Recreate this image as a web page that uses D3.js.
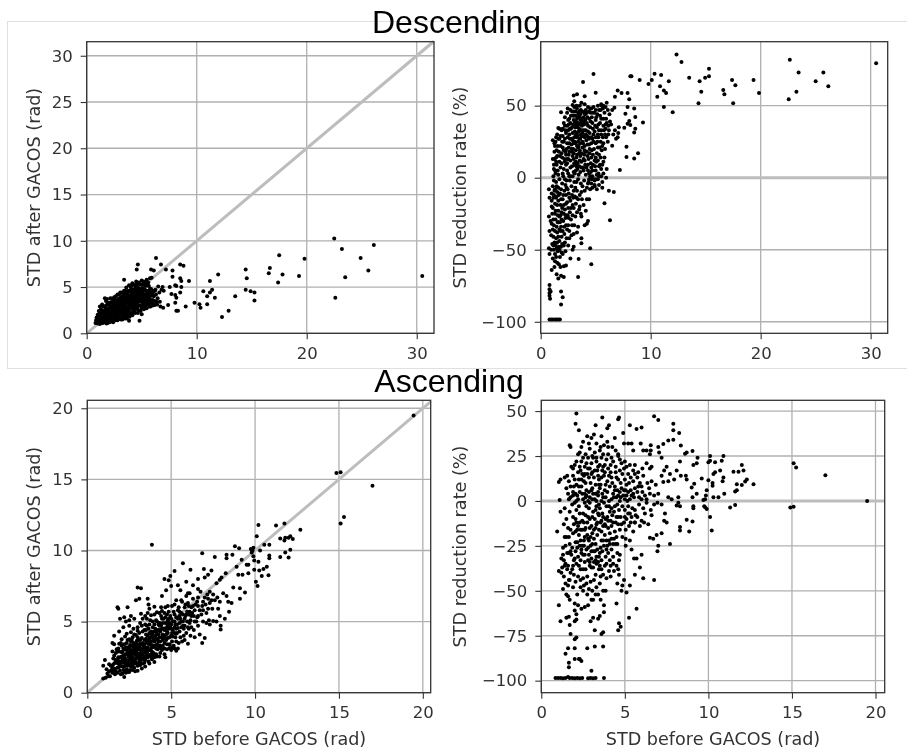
<!DOCTYPE html>
<html>
<head>
<meta charset="utf-8">
<script src="https://cdn.jsdelivr.net/npm/d3@7"></script>
<style>
html,body{margin:0;padding:0;background:#fff;}
svg{display:block;}
</style>
</head>
<body>
<svg id="chart" width="907" height="753"></svg>
<script>
// values: [before, after] or [before, rate]
const descAfter = [[30.5,6.2],[26.1,9.55],[25.6,6.8],[24.9,8.15],[23.5,6.05],[23.2,9.1],[22.6,3.85],[22.5,10.25],[19.8,8.05],[19.3,6.2],[17.8,6.35],[17.5,8.45],[17.4,5.5],[16.65,7.05],[16.55,6.5],[15.25,4.4],[15.25,3.55],[14.9,4.55],[14.55,5.95],[14.45,6.9],[14.45,4.7],[13.5,4],[12.9,2.45],[12.3,1.75],[11.95,6.35],[11.65,3.85],[11.4,4.7],[11.2,5.65],[11.2,4.4],[10.95,4],[10.95,3.15],[10.6,4.55],[10.35,2.75],[10.25,3.15],[9.8,3.3],[9.3,5.65],[9,2.9],[8.8,7.3],[8.5,7.45],[8.6,5.65],[8.5,5.95],[8.6,5],[8.5,4.4],[8.15,5.1],[8.05,5.2],[8.15,2.45],[8.3,2.45],[8.05,3.3],[8.15,3.85],[8.05,4.15],[7.7,4.25],[7.8,6.8],[7.8,6.1],[7.55,5],[7.4,3.05],[7.2,6.9],[6.75,7.45],[6.3,8.15],[6.1,6.8],[5.85,6.9],[5.75,5.95],[5.9,6],[4.65,7.45],[4.55,6.9],[3.4,5.8],[4.8,1.35],[3.85,1.35],[5,2.05],[6.95,2.75],[6.65,3.4],[6.8,4.7],[6.9,5],[6.5,5.05],[7,4.6],[6.6,4.4],[6.4,3.1],[6.7,2.9],[6.2,3.5],[6.1,4],[6.3,4.2]];

const descAfterDense = [[0.8,1.1],[0.85,1.4],[0.9,1.7],[0.95,1.2],[1,2],[1,1.05],[1.05,1.5],[1.1,2.4],[1.1,1.2],[1.15,1.8],[1.2,1],[1.25,2.1],[1.3,1.4],[1.3,2.6],[1.35,1.7],[1.4,1.1],[1.45,2.3],[1.5,1.5],[1.5,2.9],[1.55,1.9],[1.6,1.2],[1.65,2.5],[1.7,1.6],[1.75,3],[1.8,2.1],[1.8,1.05],[1.85,3.7],[1.9,1.4],[1.95,2.7],[2,1.8],[2,3.3],[2.05,1.2],[2.1,2.3],[2.15,3.8],[2.2,1.6],[2.25,2.9],[2.3,2],[2.3,1.3],[2.35,3.4],[2.4,2.5],[2.45,1.8],[2.5,3.9],[2.5,1.45],[2.55,3],[2.6,2.2],[2.65,1.6],[2.7,3.5],[2.75,2.7],[2.8,4.2],[2.8,1.4],[2.85,1.9],[2.9,3.2],[2.95,2.4],[3,3.8],[3,1.7],[3.05,4.4],[3.1,2.9],[3.15,2.1],[3.2,3.4],[3.25,1.5],[3.3,4.1],[3.35,2.6],[3.4,3],[3.45,1.9],[3.5,4.6],[3.5,3.6],[3.55,2.3],[3.6,2.9],[3.65,1.6],[3.7,4.2],[3.75,3.3],[3.8,2.5],[3.85,5.2],[3.9,3.8],[3.95,2],[4,3],[4,4.5],[4.05,2.7],[4.1,3.5],[4.15,5.4],[4.2,2.2],[4.25,4],[4.3,3.1],[4.35,4.8],[4.4,2.6],[4.45,3.6],[4.5,5.6],[4.5,4.3],[4.55,2.9],[4.6,3.3],[4.65,5],[4.7,2.5],[4.75,4.1],[4.8,3.6],[4.85,5.3],[4.9,3],[4.95,4.5],[5,2.7],[5,5.7],[5.05,3.8],[5.1,4.9],[5.15,3.2],[5.2,4.2],[5.25,5.5],[5.3,2.9],[5.35,3.6],[5.4,4.6],[5.45,5.8],[5.5,3.1],[5.55,4],[5.6,3.4],[5.65,5.1],[5.7,4.4],[5.75,3.7],[5.8,2.9],[5.85,4.8],[5.9,3.3],[5.95,4.1],[6,3.6],[6.05,4.6],[6,3],[3.2,2.4],[2.6,3.1],[3,2.6],[3.6,3.9],[4.2,3.4],[4.8,4.2],[2.2,2.5],[1.7,2.3],[1.3,1.9],[3.4,3.5],[3.8,2.9],[2.9,1.55],[3.3,1.8],[2.4,1.2],[1.9,1.1],[4.4,4.2],[5.2,3.4],[4.6,4.7],[3.1,3.6],[2.7,2.3],[2.1,1.7],[1.6,1.7],[1.2,1.5],[3.7,2.2],[4.1,4],[4.9,3.9],[5.4,4.1],[2.5,3.4],[3.5,2.7],[4.3,2.9],
[1,1.35],[1.1,1.65],[1.2,2.25],[1.25,1.25],[1.35,2.4],[1.4,1.55],[1.45,2],[1.55,1.3],[1.6,2.15],[1.65,2.85],[1.7,1.35],[1.75,1.9],[1.8,2.6],[1.85,1.6],[1.9,3.2],[1.95,2.2],[2,2.6],[2.05,1.55],[2.1,3],[2.15,2],[2.2,3.35],[2.25,1.35],[2.3,2.7],[2.35,1.7],[2.4,3.1],[2.45,2.2],[2.5,2.8],[2.55,1.55],[2.6,3.6],[2.65,2.5],[2.7,1.9],[2.75,3.2],[2.8,2.1],[2.85,3.7],[2.9,2.7],[2.95,1.8],[3,3.2],[3.05,2.2],[3.1,3.9],[3.15,2.7],[3.2,1.8],[3.25,3],[3.3,2.2],[3.35,3.7],[3.4,2.4],[3.45,4.2],[3.5,2.1],[3.55,3.3],[3.6,2.5],[3.65,3.7],[3.7,1.9],[3.75,2.8],[3.8,4.6],[3.85,3.3],[3.9,2.3],[3.95,4.1],[4,3.5],[4,2.2],[4.05,4.8],[4.1,2.9],[4.15,3.8],[4.2,2.6],[4.25,4.5],[4.3,3.5],[4.35,2.4],[4.4,3.2],[4.45,5],[4.5,2.7],[4.55,3.9],[4.6,2.8],[4.65,4.4],[4.7,3.4],[4.75,4.8],[4.8,3],[4.85,3.9],[4.9,4.8],[4.95,3.4],[5,4.1],[5.05,3],[5.1,4.4],[5.15,5.3],[5.2,3.7],[5.25,3],[5.3,4.7],[5.35,5.1],[5.4,3.3],[5.45,4.3],[5.5,3.7],[5.55,5.2],[5.6,4.6],[5.65,3.1],[5.7,3.9],[5.75,4.8],[5.8,3.4],[5.85,4.2],[5.95,3.2],[6,4.4],[6.1,3.1],[6.2,4.6],[3.15,3.15],[2.9,3.55],[2.45,3.6],[3.55,3.1],[3.95,3.15],[3.3,2.75],[2.85,2.5],[4.4,3.85],[4.65,3.6],[4.15,3.1],[3.75,3.6],[3.35,3.25],[3.05,2.5],[2.65,2.9],[2.35,2.3]];

const descAfterExtra = [[1.2,2.9],[1.65,3.8],[1.4,3.1],[1.75,3.5],[2.3,3.75],[2.65,4],[2.95,4.2],[3.2,4.4],[3.4,4.6],[3.6,4.95],[3.75,4.5],[4,5],[4.1,5.2],[4.3,5.25],[4.55,5.3],[4.75,5.5],[4.95,5.25],[5.15,5.6],[5.4,5.4],[5.6,5.5],[2.15,1.25],[2.6,1.4],[3.1,1.5],[3.5,1.6],[3.9,1.8],[4.15,1.95],[4.4,2.2],[4.65,2.2],[4.9,2.4],[5.2,2.6],[5.45,2.7],[5.7,2.9],[6.2,3.05],[6.35,3.4],[6.45,3.8],[6.25,4.7],[2.5,2.05],[2.75,1.7],[3,2.3],[3.25,2.55],[3.45,2.2],[3.65,2.7],[3.85,2.15],[4.05,3.3],[4.25,2.45],[4.5,3],[4.7,3],[4.9,3.6],[5.05,3.4],[5.3,3.2],[5.5,4.2],[2,2.05],[2.2,2.8],[2.4,3.3],[2.6,2.7],[2.8,3],[3,3],[3.2,3.8],[3.4,3.9],[3.6,3.5],[3.8,3.9],[4,4.1],[4.2,4.2],[4.4,4.5],[4.6,4.1],[4.8,4.5],[5,4.3],[5.2,4.7],[5.4,3.85],[5.6,3.9],[5.8,4.1],[1.5,1.15],[1.9,2.4],[2.1,1.45],[2.7,1.5],[3.3,3.3],[3.55,4.3],[3.75,4],[3.95,4.6],[4.15,4.4],[4.35,4.1],[4.55,3.4],[4.75,3.7],[4.95,4.1],[5.1,3.7],[5.3,4],[5.55,3.4]];

const descRate = [[30.5,79.4],[26.15,63.4],[25.7,73.1],[25,66.9],[23.45,73.1],[23.25,59.7],[22.65,81.9],[22.55,54.4],[19.85,58.8],[19.35,67.8],[17.7,64.1],[17.5,51.6],[17.4,67.8],[16.7,57.9],[16.6,60.9],[15.3,75.7],[15.3,70.4],[14.95,69.4],[14.6,59.7],[14.45,66.9],[14.35,51.6],[13.5,69.4],[12.8,80.3],[12.35,85.6],[12,45.4],[11.65,66.9],[11.4,58.8],[11.2,60.6],[11.2,49.1],[10.85,63.4],[10.95,71.3],[10.6,56.2],[10.35,72.2],[10.1,67.8],[9.8,65],[9.3,38.4],[9,67.8],[8.85,16.9],[8.6,42.1],[8.5,48.1],[8.5,31.3],[8.6,34],[8.5,13.4],[8.25,70.4],[8.15,70.4],[8.05,54.4],[7.9,58.8],[7.9,49.1],[7.8,21.5],[7.8,14.4],[8.05,39.4],[8.15,36.6],[7.9,37.5],[7.7,44.4],[7.6,34.7],[7.35,58.8],[7,60.6],[7.2,5.3],[6.65,-10],[6.2,-9],[6.3,-29.6],[5.8,-17.8],[6.5,22.2],[6.75,56.2],[6.7,48.5],[6.5,47],[7.1,35],[7.05,31],[6.85,27],[7,28],[6.75,33],[6.6,30],[4.8,72],[3.85,66.5],[5,59],[4,56.5],[3.3,58],[3,57],[3.05,53],[2.9,50.5]];

const descRateDense = [[0.8,-98.5],[0.95,-98.5],[1.1,-98.5],[1.3,-98.5],[1.45,-98.5],[1.6,-98.5],[1.75,-98.5],[0.8,-74.5],[0.8,-77.5],[0.8,-80],[0.8,-82],[0.85,-84],[0.9,-79],[1.85,-79],[2,-83],[1.85,-88],[1.85,-68],[2.1,-69],[1.45,-67],[1.6,-70],[1.0,-64],[1.25,-62],[1.5,-59],[1.8,-62],[2.1,-61.5],[2.3,-61],[3.4,-69],[3.45,-56.5],[4.6,-60],[4.5,-49],[3.7,-42],[3.7,-45.5],[2.7,-56],[0.8,-53],[0.75,-49],[0.95,-50],[1.1,-56],[1.3,-53],[1.55,-51],[1.75,-55],[1.85,-48],[2.2,-45],[2.5,-47],[2.9,-50],[3,-48],[0.8,-37],[0.95,-40],[1.1,-36],[1.25,-45],[1.4,-42],[1.5,-38],[1.7,-44],[1.9,-41],[2.15,-39],[2.4,-36],[2.8,-40],[3,-39],[0.75,-27],[0.9,-30],[1.05,-25],[1.2,-33],[1.35,-29],[1.55,-31],[1.7,-27],[1.85,-34],[2.05,-30],[2.25,-28],[2.5,-33],[2.75,-29],[3.05,-33],[3.4,-34],[3.7,-27],[4,-33],[4.2,-32],[4.3,-30],[0.8,-14],[0.75,-8],[1,-16],[1.1,-21],[1.3,-18],[1.45,-13],[1.6,-23],[1.8,-19],[2,-15],[2.2,-22],[2.4,-17],[2.65,-24],[2.9,-19],[3.1,-13],[3.3,-24],[3.55,-20],[3.75,-15],[4.2,-15],[4.4,-15],[1.1,-6],[1.25,-9],[1.4,-3],[1.6,-7],[1.75,-11],[1.95,-4],[2.15,-9],[2.35,-2],[2.55,-11],[2.8,-6],[3.05,-3],[3.3,-9],[3.55,-12],[3.8,-6],[4,-9],[4.3,-4],[4.5,-8],[4.7,-7],[4.9,-6],[5.1,-8],[5.3,-5],[5.6,-7],[5.6,-3],
[1.15,1],[1.3,5],[1.45,9],[1.6,2],[1.8,7],[2,3],[2.2,11],[2.4,5],[2.6,1],[2.85,8],[3.1,3],[3.35,10],[3.6,4],[3.85,7],[4.1,2],[4.3,9],[4.5,1],[4.7,5],[4.9,-2],[5.1,2],[5.3,8],[5.5,1],[5.7,3],[5.95,0],[6,6],[5.6,9],[1.1,13],[1.25,18],[1.4,11],[1.55,22],[1.75,15],[1.95,25],[2.15,13],[2.35,20],[2.55,16],[2.8,23],[3,13],[3.2,19],[3.4,25],[3.6,15],[3.8,21],[4,12],[4.2,18],[4.4,23],[4.6,14],[4.85,20],[5.05,11],[5.3,16],[5.55,19],[5.8,14],[5.15,25],[1.1,26],[1.4,28],[1.7,34],[2,29],[2.2,36],[2.45,28],[2.7,38],[2.9,31],[3.15,35],[3.35,29],[3.55,42],[3.8,33],[4,28],[4.2,38],[4.45,31],[4.7,27],[4.95,36],[5.2,30],[5.4,38],[5.65,28],[5.9,34],[6.15,30],[6.3,39],[1.7,27],[1.6,34.5],[2.4,45],[1.85,45.5],[2.6,41],[2.85,46],[3.1,43],[3.3,48],[3.55,50],[3.8,46],[4.05,44],[4.3,49],[4.55,45],[4.8,49],[5.05,42],[5.3,47],[5.55,50],[5.8,45],[6,52],[5.5,51],[6.25,44],[6.4,37],[5.95,41],[3.4,38],[2.6,24],[2.95,20],[3.25,28],[3.65,30],[3.95,37],[4.35,28],[2.3,16],[2.1,19],[1.9,10],[2.7,12],[3.5,17],[4.15,26],[3,40],[2.5,33],[1.3,22],[1.2,9],[1.5,15],[4.4,-1],[4.6,-4],[4.7,1],[4.9,-5],[5.2,-1],[2.3,-12],[2.9,-26],[1.8,-37],[1.3,-58],[1.45,-49],[2.0,-53],[1.15,-41],[1.6,-16],
[1,-32],[1.15,-29],[1.3,-37],[1.45,-34],[1.6,-41],[1.7,-36],[1.9,-24],[2,-37],[2.1,-25],[2.3,-33],[2.45,-26],[2.6,-37],[2.85,-33],[3.15,-27],[3.3,-38],[1.05,-46],[1.2,-50],[1.35,-47],[1.5,-45],[1.65,-48],[1.9,-52],[2.1,-47],[2.35,-42],[1,-11],[1.15,-14],[1.35,-23],[1.5,-19],[1.65,-12],[1.9,-29],[2.1,-19],[2.3,-26],[2.5,-21],[2.7,-16],[2.95,-14],[3.2,-18],[3.4,-15],[3.65,-25],[3.9,-19],[4.1,-23],[1.2,-2],[1.35,3],[1.5,-10],[1.7,-1],[1.85,-8],[2.05,1],[2.25,-5],[2.45,-8],[2.65,-2],[2.9,1],[3.15,-7],[3.4,-1],[3.65,-4],[3.95,-2],[4.2,-7],[4.4,3],[4.6,7],[4.8,-1],[5,5],[5.25,3],[5.5,6],[1.2,6],[1.4,14],[1.55,5],[1.7,11],[1.9,17],[2.1,6],[2.3,9],[2.5,13],[2.7,7],[2.9,15],[3.1,9],[3.25,14],[3.5,8],[3.7,11],[3.95,16],[4.15,7],[4.35,13],[4.55,10],[4.75,16],[4.95,8],[5.2,12],[5.45,14],[5.7,11],[1.25,24],[1.45,19],[1.6,27],[1.8,22],[2,21],[2.2,27],[2.4,24],[2.6,30],[2.8,27],[3,24],[3.2,30],[3.4,21],[3.6,27],[3.8,25],[4,22],[4.2,29],[4.4,27],[4.6,24],[4.8,30],[5,24],[5.2,21],[5.45,25],[5.7,24],[5.95,28],[6.1,25],[1.9,33],[2.1,38],[2.3,31],[2.55,37],[2.75,34],[2.95,37],[3.1,32],[3.3,41],[3.5,34],[3.7,38],[3.9,42],[4.1,33],[4.3,36],[4.55,39],[4.75,34],[5,40],[5.25,37],[5.5,33],[5.7,41],[5.9,37],[6.15,36],[2.2,42],[2.5,40],[2.75,43],[3,46],[3.2,39],[3.4,45],[3.65,47],[3.9,39],[4.1,47],[4.4,41],[4.65,42],[4.9,45],[5.15,44],[5.4,43],[5.65,48],[3.25,50],[3.5,46],[3.7,52],[4,51],[4.5,48],[3.05,49],[2.7,47],[3.6,40],[3.35,35],[3.15,24],[3.45,32],[3.75,36],[3.05,28],[2.85,35],[4.05,40],[4.25,42],[3.6,24],[3.85,29],[3.25,37]];

const descRateExtra = [[1,-20],[1.2,-12],[1.3,-25],[1.45,-6],[1.55,-26],[1.75,-31],[1.95,-21],[2.15,-34],[2.35,-7],[2.55,-28],[2.75,-21],[3,-9],[3.25,-14],[3.5,-22],[3.7,-10],[1.25,13],[1.35,25],[1.5,30],[1.65,18],[1.8,29],[1.95,14],[2.1,25],[2.25,18],[2.4,10],[2.55,21],[2.65,34],[2.85,18],[3.05,10],[3.2,5],[3.3,16],[3.45,22],[3.55,12],[3.75,17],[3.9,5],[4.05,18],[4.25,23],[4.45,17],[4.65,19],[4.9,12],[5.1,17],[5.35,21],[5.6,22],[5.85,20],[2,34],[2.25,33],[2.4,36],[2.65,27],[2.9,26],[3.1,38],[3.3,31],[3.5,37],[3.65,33],[3.8,31],[3.95,33],[4.1,30],[4.3,32],[4.5,35],[4.7,38],[4.9,32],[5.1,35],[5.3,33],[5.5,41],[5.7,36],[5.85,30],[6,38],[6.2,33],[2.45,48],[2.95,43],[3.15,46],[3.35,43],[3.6,44],[3.75,41],[3.95,45],[4.2,45],[4.4,46],[4.6,48],[4.75,45],[5,47],[5.2,50],[5.45,47],[5.7,50],[5.9,49],[6.1,47],[3.1,25],[3.3,22],[3.5,27],[3.7,29],[3.85,24],[4,19],[4.25,15],[4.45,20],[4.6,28],[4.8,25],[5,28],[5.25,28],[5.5,30],[5.75,33],[2.4,13],[2.6,18],[2.8,20],[3,17],[3.2,11],[3.35,6],[3.55,19],[3.7,7],[3.9,13],[4.05,9],[4.3,5],[4.55,4],[4.75,9],[5,14],[5.4,9],[1.4,-14],[1.8,-26],[2.05,-12],[2.3,-18],[2.6,-14],[2.85,-12],[3,-21],[3.25,-3],[1.3,-8],[1.6,-31],[1.85,-15],[2.2,-1],[2.5,3],[2.7,1],[3,4],[3.25,8],[3.45,2],[4.35,-3],[4.65,-1],[5,-1],[5.3,1],[1.65,-60],[1.15,-47],[1.4,-55],[1.7,-50],[1.95,-46],[2.25,-51],[2.6,-42]];

const ascAfter = [[19.45,19.5],[17,14.55],[15.1,15.5],[14.85,15.45],[15.3,12.35],[15.1,11.9],[12.7,11.45],[12.25,10.8],[12.1,11],[12,10.9],[12.1,10.05],[12,9.5],[11.8,9.85],[11.75,11.9],[11.25,11.75],[11.5,10.85],[11.75,10.7],[11.8,10.9],[11.5,9.55],[10.2,11.8],[10.1,11],[10.55,10.4],[10.85,10.4],[10.3,10],[10.85,9.65],[10.85,9.45],[10.7,8.85],[10.8,8.25],[10.4,8.2],[10.5,8.7],[10.25,8.6],[9.95,8.65],[10.15,7.5],[10.05,7.8],[10.2,9.2],[9.85,10],[9.75,10.1],[9.9,10.2],[9.8,9.85],[9.9,9.6],[9.95,9.3],[3.85,10.4],[9.5,9],[9.6,9],[9.2,9.35],[9.05,10.15],[8.8,10.3],[8.65,9.7],[8.3,9.7],[8.3,9.45],[8.9,8.85],[9,8.3],[9.25,8.3],[9.6,8.4],[9.1,7.35],[9.4,7.05],[9.1,6.6],[8.7,7.4],[8.6,6.3],[8.4,6.4],[8.3,6.8],[8.1,7],[8.25,8.4],[8,8.1],[7.9,7.95],[7.7,7.7],[7.6,9.55],[7.4,8.6],[7.2,8.3],[7,8.1],[6.85,9.8],[5.7,9.1],[5.2,8.55],[6.15,8.65],[6.95,8.7],[6.6,8],[4.85,7.9],[4.6,8],[4.95,8.2],[3,7.4],[3.2,7.35],[2.9,6.5],[3.1,6.6],[3.6,6.6],[3.65,6.2],[1.8,6],[1.85,5.9],[2.4,6],[3.7,5.9],[4.45,6.8],[4.7,7.2],[5,7.5],[5.4,7.55],[5.55,7.2],[5.9,7.8],[6.3,7.55],[6.6,7.3],[7.3,7.1],[7.5,6.9],[7.75,6.7],[7.9,6.4],[7.2,6.6],[8.2,5.2],[8.45,5.7],[7.95,4.45],[7.95,4.7],[7.7,5],[7.5,5.05],[7.25,5.1],[7.1,4.9],[7,3.85],[6.85,3.5],[6.2,4.6],[6.05,4.5],[6.55,5.3],[6.9,5],[5.75,4],[6,3.45],[5.3,3.6],[5.3,2.95],[5,3],[4.65,2.5],[4.6,3.5],[4.2,3.35],[3.8,2.7],[3.4,2.5],[2.6,5.4],[2.3,5],[1.95,5.2],[1.9,4.3],[2.15,4.6],[2.5,4.7],[1.6,3.4],[1.5,2.9],[1.05,2.3],[0.95,1.9],[1.3,2],[1.15,1.65],[1.1,1.05],[0.95,1],[1.25,1.15],[2.2,1.1]];

const ascAfterDense = [[1.3,1.5],[1.4,1.9],[1.5,1.4],[1.55,2.4],[1.6,1.7],[1.7,1.5],[1.7,2.8],[1.75,2.1],[1.8,1.4],[1.85,3.1],[1.9,1.8],[1.95,2.5],[2,1.3],[2,3.5],[2.05,2.1],[2.1,2.9],[2.15,1.6],[2.2,3.4],[2.25,2.3],[2.3,1.4],[2.35,2.7],[2.4,3.7],[2.4,1.9],[2.45,3.2],[2.5,2.3],[2.55,1.6],[2.6,3.6],[2.65,2.7],[2.7,1.9],[2.75,3.2],[2.8,4.1],[2.8,2.3],[2.85,1.5],[2.9,3.5],[2.95,2.7],[3,1.9],[3,4.6],[3.05,3.1],[3.1,2.3],[3.15,3.7],[3.2,2.8],[3.25,1.7],[3.3,4.3],[3.35,3.3],[3.4,2.1],[3.45,5.4],[3.5,3.8],[3.5,2.6],[3.55,4.7],[3.6,3.2],[3.65,2.2],[3.7,4.2],[3.75,5.1],[3.8,3.6],[3.85,2.9],[3.9,4.6],[3.95,3.3],[4,5.5],[4,2.5],[4.05,4],[4.1,3.1],[4.15,5],[4.2,4.4],[4.25,3.6],[4.3,5.6],[4.35,2.8],[4.4,4.7],[4.45,3.9],[4.5,3.3],[4.55,5.2],[4.6,4.4],[4.65,6],[4.7,3.7],[4.75,4.9],[4.8,4.2],[4.85,5.7],[4.9,3.4],[4.95,4.6],[5,5.2],[5,4],[5.05,6.1],[5.1,4.4],[5.15,3.3],[5.2,5.5],[5.25,4.8],[5.3,6.5],[5.35,4.2],[5.4,5.2],[5.45,6],[5.5,4.9],[5.55,3.9],[5.6,5.6],[5.65,6.4],[5.7,5],[5.75,4.5],[5.8,6],[5.85,5.4],[5.9,6.8],[5.95,5],[6,6.3],[6.05,5.5],[6.1,7],[6.15,5.1],[6.2,6],[6.3,6.6],[6.35,5.4],[6.45,6.2],[6.5,5],[6.6,6.7],[6.7,5.8],[6.75,7.1],[6.9,6.4],[7,6.7],[7.1,5.6],[7.3,6.3],[7.45,5.9],[7.6,6.5],[7.8,5.9],[7.9,5.4],[2.2,2.5],[2.6,3],[3,3.4],[3.4,3.7],[3.2,3.1],[2.9,2.9],[2.5,2.7],[2.1,2.4],[3.6,4],[3.3,2.7],[3.7,3.4],[4.1,4.3],[4.3,3.9],[4.5,4.9],[3.1,4.2],[2.7,3.9],[2.3,3.2],[1.9,2.9],[3.5,4.4],[3.9,5],[4.8,5.1],[5.2,4.2],[5.5,5.4],[2.3,2],[2.7,2.5],[3.1,2.7],[3.5,3.1],[3.9,3.9],[4.3,4.4],
[1.45,1.6],[1.55,2],[1.65,1.3],[1.7,2.3],[1.8,1.75],[1.85,2.5],[1.95,1.55],[2,2.2],[2.05,2.85],[2.1,1.35],[2.15,2.6],[2.2,1.85],[2.25,3.05],[2.3,2.35],[2.35,1.65],[2.4,2.85],[2.45,2.05],[2.5,3.1],[2.55,2.5],[2.6,1.85],[2.65,3.3],[2.7,2.2],[2.75,2.85],[2.8,1.75],[2.85,3.45],[2.9,2.15],[2.95,3.2],[3,2.5],[3.05,3.7],[3.1,1.95],[3.15,3],[3.2,2.35],[3.25,3.85],[3.3,2.05],[3.35,2.95],[3.4,3.4],[3.45,2.3],[3.5,4.1],[3.55,2.85],[3.6,3.5],[3.65,2.65],[3.7,3.8],[3.75,3],[3.8,4.3],[3.85,3.35],[3.9,2.6],[3.95,3.75],[4,4.8],[4.05,3.3],[4.1,2.7],[4.15,4.15],[4.2,3.7],[4.25,4.8],[4.3,3.25],[4.35,4.3],[4.4,3.1],[4.45,5.2],[4.5,3.7],[4.55,4.5],[4.6,3.1],[4.65,5.3],[4.7,4.1],[4.75,3.4],[4.8,4.7],[4.85,5.2],[4.9,3.9],[4.95,5.4],[5,4.5],[5.05,3.6],[5.1,5],[5.15,5.7],[5.2,4.6],[5.25,3.9],[5.3,5.3],[5.35,4.8],[5.4,5.8],[5.5,4.3],[5.55,5.2],[5.6,4.6],[5.7,5.5],[5.8,5.2],[5.85,6.2],[5.95,5.7],[6.05,6.1],[6.1,4.9],[6.25,5.6],[6.4,5.8],[6.6,6.1],[6.8,5.5],[7.05,6.2],[1.6,2.6],[1.8,2.9],[2.05,3.3],[2.35,3.5],[2.65,3.7],[3,3.9],[3.25,4.7],[3.45,4.8],[3.7,4.8],[4.1,5.1],[4.4,5.4],[2.75,2.1],[3.05,2.05],[3.4,2.85],[3.75,2.55],[2.5,1.45],[2.85,2.65],[3.15,2.5],[3.55,3.55],[2.95,3.65],[3.3,3.5],[3.6,2.95],[2.2,2.1],[2.55,2.9],[1.9,2.2],[3.2,3.4],[2.8,3.35],[2.4,2.2],[2.6,2.35],[3,2.75],[3.4,3.15],[3.8,3.15],[4,3.6],[4.2,3.05],[4.35,3.6],[4.6,3.95],[4.8,3.85],[5,4.8],[5.3,4.5]];

const ascAfterExtra = [[1.2,1.35],[1.35,1.15],[1.5,1.75],[1.65,2.1],[1.75,3.05],[1.8,2.35],[1.9,3.45],[2.05,3.75],[2.15,3.1],[2.25,3.95],[2.35,4.15],[2.5,3.75],[2.6,4.25],[2.75,4.5],[2.9,4.05],[3,4.35],[3.15,4.9],[3.3,5.2],[3.4,4.4],[3.55,5.2],[3.65,4.5],[3.8,5.45],[3.9,4.25],[4,4.3],[4.15,5.65],[4.3,4.9],[4.45,5.75],[4.6,5.6],[4.75,5.5],[2.1,1.85],[2.25,1.55],[2.4,1.45],[2.55,1.95],[2.7,1.6],[2.85,2.05],[3,1.55],[3.15,1.95],[3.3,2.4],[3.45,1.85],[3.6,2.5],[3.7,2.05],[3.85,2.35],[4,2.15],[4.15,2.55],[4.3,2.55],[4.45,3],[4.6,2.7],[4.75,3.05],[4.9,3.15],[5.05,3.2],[5.2,3.1],[5.45,3.5],[5.65,3.6],[5.9,4.2],[6.15,4],[6.35,4.4],[6.6,4.7],[2.5,2.55],[2.7,2.95],[2.9,2.4],[3.1,3.3],[3.25,2.65],[3.45,3.2],[3.65,3.65],[3.85,4.1],[4.05,4.5],[4.25,4.1],[4.45,4.5],[4.65,4.9],[4.85,4.5],[5.05,4.2],[5.2,5],[5.4,4.55],[5.6,5],[5.8,4.7],[6,4.6],[6.2,5.4],[6.4,5],[6.6,5.4],[6.9,5.8],[7.2,5.9],[7.4,6.5],[3,3.05],[3.15,3.45],[3.35,3.05],[3.55,2.5],[3.75,3.9],[3.95,2.8],[4.15,3.4],[4.35,3.3],[4.55,3.85],[4.75,4.3],[2.85,3.05],[2.65,2.1],[2.45,2.55],[2.25,2.7],[2.05,2.55],[1.85,2.05],[1.65,1.55],[1.95,1.95],[2.15,2.25],[2.35,3],[2.55,3.35],[2.75,3.5],[2.95,3],[3.15,2.2],[3.35,2.35],[3.5,2.95],[3.7,3],[3.9,3.2],[4.1,3.85],[4.3,4.7],[4.5,4.1],[4.7,4.55],[4.9,4.9],[5.1,3.95],[5.3,4.15],[5.5,5.7],[5.7,4.7],[5.9,5.5],[6.1,5.7],[6.3,6.1],[6.55,6.4],[6.85,6.1],[7.15,6.9],[6,7],[5.6,6.5],[5.2,6.2],[4.8,6.1],[4.4,6],[4,6.05],[3.6,5.6],[3.2,5.55],[2.8,5.2],[2.5,5.1],[2.2,5.3],[1.6,4],[1.5,3.5],[5.4,3.1],[5.8,3.7],[6.4,3.9],[6.7,4.1],[7.3,4.8]];

const ascRate = [[19.5,0],[17,14.3],[15.1,21],[15.25,18.6],[14.9,-3.7],[15.1,-3.2],[12.7,9.3],[12.3,12],[12.2,10.8],[12,8.9],[12,20],[12.1,16.9],[11.8,16.3],[11.5,16.3],[11.7,9.3],[11.7,6],[11.6,5.2],[11.3,-3.7],[11.6,-2.2],[10.9,25],[10.8,22.3],[10.4,21.5],[10,21.5],[10.1,22.3],[10.1,25],[10.9,13],[10.85,11],[10.7,17],[10.4,16],[10.3,15],[10.25,10],[10.25,8.5],[10,11.5],[9.6,12.5],[9.9,6],[9.85,3],[10.3,2],[10.6,2],[10.95,4],[9.8,1],[9.7,0.5],[9.8,-3.5],[9.9,-4.5],[9.75,-3],[10.1,-9],[10.2,-16.5],[9.35,24.1],[9.3,21],[9.1,20],[9.05,27.8],[8.6,26.2],[8.7,27],[9.15,9.5],[9,7.5],[9.3,4],[9.05,2],[9.1,-3],[9.1,-4],[9.05,-11.5],[8.7,-10.5],[8.85,-17],[8.3,-14.5],[8.3,-16.5],[8.3,-3],[8.2,-1],[8.1,-2.5],[8.2,2],[8.7,12],[8.65,14],[8.3,22],[8.1,17],[8.35,30.8],[8.35,14],[7.9,42.9],[7.9,39.3],[8.25,37.8],[7.9,34],[7.6,33.6],[7.3,31.7],[7.5,19],[7.7,15],[7.95,12],[7.6,11],[7.35,17],[7.2,14],[7.3,10.5],[7.6,2],[7.8,1],[7.5,-12],[7.35,-11],[7.4,-7],[7.7,-24],[7,-25],[6.95,-28],[7.2,-18],[6.9,-19],[6.7,-21],[6.5,-20.5],[6.75,47.1],[7,45],[6.75,-44],[6.1,-43],[5.6,-41],[5.9,-37],[6,-30],[5.7,-32],[5.55,-32],[5.4,-27],[5.3,-22],[5.7,-60],[5.25,-65],[5.3,-47],[5.1,-51],[4.95,-44],[4.8,-50],[4.55,-46],[4.5,-57],[4.65,-68],[4.75,-70],[4.6,-72],[4.85,-47],[5.3,42.1],[5.7,40],[6,40.8],[4.9,37.8],[4.65,46.4],[4.6,45.5],[4.05,42.1],[3.95,40.4],[3.65,46.4],[3.25,42.1],[2.1,48.6],[2.05,42.9],[2.25,39.3]];

const ascRateDense = [[0.85,-98.5],[1,-98.5],[1.15,-98.5],[1.3,-98.7],[1.45,-98.5],[1.6,-98],[1.7,-98.5],[1.85,-98.5],[2,-98.7],[2.15,-98.5],[2.3,-98.7],[2.45,-98.5],[2.8,-98.7],[2.95,-98.5],[3.1,-98.7],[3.25,-98.5],[3.75,-98.5],[3,-94.5],[1.65,-90],[1.65,-92.5],[1.45,-85],[1.6,-82],[2,-82],[2.75,-82],[3.2,-81],[3.7,-81],[2,-88],[2.25,-88],[2.3,-88],[2.4,-89],[2,-77],[2.1,-76],[1.75,-74],[3.2,-72],[3.6,-74],[3.7,-73],[1.7,-69],[1.15,-67],[1.5,-65],[1.65,-64.5],[2,-67],[2.1,-66],[2.1,-63],[2,-61],[2.4,-60],[2.6,-59],[2.8,-58],[2.95,-67],[3.1,-65],[3.4,-65.5],[3.5,-64],[3.75,-62],[3.75,-58],[1.05,-58],[2.5,-50],[2.35,-48],[2.85,-49],[3.05,-50],[3.3,-48],[3.1,-55],[3,-55],[3.4,-52],[3.7,-50],[3.85,-50],[1.3,-49],[1.5,-52],[1.6,-53],[1.7,-55],[1.9,-48],[2.15,-52],[1.05,-39],[1.2,-40],[1.35,-42],[1.55,-38],[1.7,-44],[1.95,-41],[2.1,-35],[2.5,-43],[2.75,-42],[3.25,-41],[3.55,-42],[3.7,-41],[3.9,-43],[4.05,-39],[4.15,-36],[4.3,-35],[4.65,-41],[4.6,-38],[4.65,-33],[4.7,-30],[1.3,-30],[1.35,-33],[1.6,-36],[1.8,-30],[2,-32],[2.2,-31],[2.4,-29],[2.6,-34],[2.85,-30],[3,-32],[3.2,-28],[3.4,-34],[3.6,-33],[3.85,-31],[4.2,-27],[4.45,-24],[4.55,-29],[1.5,-20],[1.7,-24],[0.95,-17],[1.35,-13],[1.9,-18],[2.05,-23],[2.25,-19],[2.45,-25],[2.65,-15],[2.85,-22],[3.05,-18],[3.25,-24],[3.45,-16],[3.6,-22],[3.8,-19],[4,-15],[4.2,-21],[4.4,-17],[4.6,-13],[4.85,-20],[5.05,-21],[5.05,-16],[5.5,-17],[1.15,-6],[1.4,-4],[1.9,-9],[2.1,-5],[2.3,-12],[2.5,-7],[2.7,-3],[2.9,-10],[3.1,-6],[3.3,-13],[3.5,-4],[3.7,-9],[3.9,-3],[4.15,-11],[4.35,-6],[4.55,-2],[4.75,-9],[5,-5],[5.2,-3],[5.4,-9],[5.6,-5],[5.85,-2],[6,-11],[6.2,-7],[6.4,-13],[6.55,-5],[6.75,-2],[6.95,-1],[1.1,0.5],[1.6,4],[1.65,1],[1.9,3],[2.1,0],[2.3,5],[2.5,1],[2.7,6],[2.9,2],[3.1,4],[3.3,0],[3.5,7],[3.7,2],[3.95,5],[4.2,1],[4.4,6],[4.6,3],[4.8,7],[5,1],[5.2,5],[5.4,3],[5.6,7],[5.85,2],[6.05,5],[6.3,1],[6.5,4],[6.75,3],[7,4],[7.2,-2],[1.05,10.5],[1.15,12],[1.4,13],[1.65,11],[1.9,14],[2.1,9],[2.35,17],[2.55,11],[2.75,15],[2.95,10],[3.15,13],[3.35,17],[3.55,9],[3.75,14],[3.95,11],[4.15,16],[4.4,8],[4.6,12],[4.85,15],[5.1,9],[5.35,13],[5.6,15],[5.9,10],[6.1,14],[6.35,10],[6.6,11],[6.85,9],[1.8,19],[2,20],[2.2,26],[2.4,22],[2.6,19],[2.8,24],[3,21],[3.2,27],[3.4,19],[3.6,24],[3.8,20],[4,26],[4.3,22],[4.6,25],[4.8,21],[5.1,19],[5.6,20],[6.3,21],[6.5,18],[6.6,19],[1.75,30],[1.7,31],[2.3,27],[2.5,33],[2.75,36],[3,35],[3.15,37],[3.3,32],[3.6,36],[3.75,31],[4,30],[4.4,35],[4.6,26],[4.95,32],[5.2,32],[5.4,32],[5.5,28],[5.95,32],[6.1,28],[6.55,31],[6.55,28],[7,30],[7.05,27],[7.2,24],[6.3,28],[6.5,26],[2.9,29],[3.5,28],[4.25,30],[2.55,14],[3.05,7],[3.45,-8],[3.85,-14],[2.2,-14],[2.6,-20],[3,-37],[2.35,-38],[3.5,-29],[3.95,-25],[4.1,-6],[4.5,-9],[4.7,0],[5.05,6],[5.3,-7],[5.75,-9],
[1.5,-10],[1.75,-16],[1.95,-13],[2.15,-16],[2.35,-22],[2.55,-12],[2.75,-19],[2.95,-25],[3.15,-21],[3.35,-19],[3.55,-26],[3.7,-14],[3.9,-22],[4.1,-18],[4.3,-24],[4.5,-20],[4.7,-16],[4.95,-12],[1.7,-6],[1.85,-2],[2.05,-10],[2.25,-3],[2.45,-11],[2.65,-8],[2.85,-4],[3.05,-9],[3.25,-5],[3.45,-2],[3.65,-7],[3.85,-10],[4.05,-3],[4.25,-8],[4.45,-12],[4.65,-5],[4.85,-3],[5.1,-10],[5.35,-12],[5.65,-8],[6.1,-4],[6.3,-1],[1.5,7],[1.75,2],[1.95,8],[2.15,3],[2.4,8],[2.6,4],[2.8,0],[3,6],[3.2,1],[3.4,5],[3.6,0],[3.8,6],[4.05,0],[4.3,4],[4.5,2],[4.7,5],[4.9,3],[5.1,3],[5.3,1],[5.5,4],[5.75,5],[6,1],[6.2,3],[6.45,7],[1.55,14],[1.75,8],[2,12],[2.25,12],[2.45,15],[2.65,10],[2.85,13],[3.05,16],[3.25,9],[3.45,12],[3.65,17],[3.85,9],[4.05,14],[4.25,10],[4.5,13],[4.75,10],[5,12],[5.25,10],[5.5,11],[5.75,13],[6,8],[1.9,18],[2.1,22],[2.3,19],[2.5,24],[2.7,21],[2.9,18],[3.1,24],[3.3,22],[3.5,20],[3.7,19],[3.9,23],[4.15,20],[4.45,19],[4.7,23],[5,22],[5.3,20],[1.85,-26],[2.05,-28],[2.3,-25],[2.5,-30],[2.7,-27],[2.9,-34],[3.1,-28],[3.3,-31],[3.5,-36],[3.75,-25],[4,-29],[4.3,-31],[4.5,-36],[1.4,-20],[1.3,-26],[1.2,-32],[1.45,-35],[1.85,-38],[2.2,-42],[2.65,-38],[2.9,-36],[3.15,-34],[3.45,-38],[3.8,-36],[4.1,-33],[1.75,-40],[1.6,-47],[2.05,-45],[2.35,-44],[2.7,-46],[3.15,-44],[3.5,-46],[4.15,-42],[2.45,-16],[2.75,-12],[3.35,-12],[3.6,-17],[3.15,-16],[2.9,-15],[2.3,-7],[2.9,-1],[3.3,-3],[3.75,-1],[4.2,-4],[2,-1],[2.6,-1],[3.4,3],[2.7,3],[2.2,1]];

const ascRateExtra = [[1.45,-25],[1.6,-15],[1.65,-29],[1.95,-33],[2.15,-26],[2.35,-33],[2.55,-25],[2.8,-26],[3,-28],[3.25,-33],[3.45,-31],[3.65,-28],[3.9,-27],[4.1,-24],[4.35,-21],[2.1,-12],[2.35,-16],[2.6,-16],[2.8,-9],[3,-14],[3.2,-10],[3.4,-7],[3.6,-11],[3.8,-13],[4,-11],[4.2,-14],[4.4,-3],[4.6,-9],[4.8,-13],[5,-9],[5.2,-7],[5.45,-4],[5.6,-12],[1.9,5],[2.05,4],[2.25,8],[2.45,4],[2.65,2],[2.85,5],[3.05,1],[3.25,4],[3.45,9],[3.65,4],[3.85,2],[4.1,8],[4.35,2],[4.55,6],[4.75,2],[4.95,6],[5.15,0],[5.35,6],[5.55,2],[5.8,8],[2.2,16],[2.4,12],[2.6,15],[2.8,18],[3,15],[3.2,17],[3.4,14],[3.6,13],[3.8,16],[4,18],[4.2,13],[4.45,16],[4.7,17],[4.95,18],[5.2,15],[5.5,17],[5.8,16],[6.05,18],[2.4,30],[2.65,26],[2.85,32],[3.05,25],[3.3,24],[3.55,30],[3.7,26],[3.95,33],[4.2,24],[4.45,28],[2,-57],[2.2,-58],[2.55,-47],[2.75,-52],[2.95,-45],[3.25,-52],[3.55,-55],[1.45,-46],[1.65,-44],[1.9,-36],[2.25,-36],[2.5,-38],[2.8,-33],[3.1,-37],[3.3,-35],[3.6,-38],[3.9,-35],[4.35,-39],[1.25,-37],[1.55,-29],[1.4,-36],[2.05,-17],[2.55,-22],[2.95,-20],[3.25,-15],[3.55,-12],[3.95,-9],[4.3,-12],[1.65,-20],[1.75,-28],[2.15,-23],[2.4,-27],[2.6,-30],[2.8,-21],[3.05,-24],[3.35,-27],[3.7,-22],[4.05,-22],[4.55,-24],[5.05,-25],[5.25,-14],[5.6,-12],[5.9,-14],[6.15,-12],[6.6,-8]];

const xTicksDesc = [0,10,20,30];
const xTicksAsc = [0,5,10,15,20];
const yTicksAfterDesc = [0,5,10,15,20,25,30];
const yTicksAfterAsc = [0,5,10,15,20];
const yTicksRateDesc = [-100,-50,0,50];
const yTicksRateAsc = [-100,-75,-50,-25,0,25,50];
const titles = ['Descending','Ascending'];
const labelAfter = 'STD after GACOS (rad)';
const labelRate = 'STD reduction rate (%)';
const labelBefore = 'STD before GACOS (rad)';

const svg = d3.select('#chart');
const defs = svg.append('defs');
defs.append('filter').attr('id','soft').append('feGaussianBlur').attr('stdDeviation',0.45);

// thin frame round the descending row
svg.append('rect').attr('x',7.5).attr('y',21.5).attr('width',905).attr('height',347).attr('fill','none').attr('stroke','#e0e0e0');

function panel(o){
  const x = d3.scaleLinear().domain(o.xdom).range([o.left,o.right]);
  const y = d3.scaleLinear().domain(o.ydom).range([o.bottom,o.top]);
  const g = svg.append('g').attr('filter','url(#soft)');

  // grid first, marks on top of it
  g.append('g').selectAll('line').data(o.xticks).enter().append('line')
    .attr('x1',d=>x(d)).attr('x2',d=>x(d)).attr('y1',o.top).attr('y2',o.bottom)
    .attr('stroke','#b0b0b0').attr('stroke-width',1.3);
  g.append('g').selectAll('line').data(o.yticks).enter().append('line')
    .attr('x1',o.left).attr('x2',o.right).attr('y1',d=>y(d)).attr('y2',d=>y(d))
    .attr('stroke','#b0b0b0').attr('stroke-width',1.3);

  const ref = o.diag ? [[o.xdom[0],o.xdom[0]],[o.xdom[1],o.xdom[1]]] : [[0,0],[o.xdom[1],0]];
  g.append('path').attr('d',d3.line().x(d=>x(d[0])).y(d=>y(d[1]))(ref))
    .attr('stroke','#bdbdbd').attr('stroke-width',3).attr('fill','none');

  g.append('g').selectAll('circle').data(o.pts).enter().append('circle')
    .attr('cx',d=>x(d[0])).attr('cy',d=>y(d[1])).attr('r',2).attr('fill','#000');

  const ax = g.append('g').attr('transform',`translate(0,${o.bottom})`)
    .call(d3.axisBottom(x).tickValues(o.xticks).tickSize(6).tickPadding(8).tickFormat(d3.format('d')));
  const ay = g.append('g').attr('transform',`translate(${o.left},0)`)
    .call(d3.axisLeft(y).tickValues(o.yticks).tickSize(6).tickPadding(8)
      .tickFormat(d=>String(d).replace('-','\u2212')));
  for(const a of [ax,ay]){
    a.select('.domain').remove();
    a.selectAll('line').attr('stroke','#333').attr('stroke-width',1.1);
    a.selectAll('text').attr('fill','#333').style('font-family','"DejaVu Sans"').style('font-size','16.5px');
  }
  g.append('rect').attr('x',o.left).attr('y',o.top).attr('width',o.right-o.left).attr('height',o.bottom-o.top)
    .attr('fill','none').attr('stroke','#333').attr('stroke-width',1.3);

  g.append('text').attr('transform',`translate(${o.ylabelx},${(o.top+o.bottom)/2}) rotate(-90)`)
    .attr('text-anchor','middle').attr('fill','#333').style('font-family','"DejaVu Sans"').style('font-size','17.6px').text(o.ylabel);
  if(o.xlabel)g.append('text').attr('x',(o.left+o.right)/2).attr('y',o.bottom+52)
    .attr('text-anchor','middle').attr('fill','#333').style('font-family','"DejaVu Sans"').style('font-size','17.6px').text(o.xlabel);
}

panel({pts:[...descAfter,...descAfterDense,...descAfterExtra],left:86.7,right:434,top:41.7,bottom:333.3,xdom:[0,31.57],ydom:[0,31.52],xticks:xTicksDesc,yticks:yTicksAfterDesc,diag:true,ylabel:labelAfter,ylabelx:40});
panel({pts:[...descRate,...descRateDense,...descRateExtra],left:540.7,right:887.7,top:41.7,bottom:333.3,xdom:[0,31.55],ydom:[-108,94.4],xticks:xTicksDesc,yticks:yTicksRateDesc,diag:false,ylabel:labelRate,ylabelx:466});
panel({pts:[...ascAfter,...ascAfterDense,...ascAfterExtra],left:87.3,right:430.7,top:400.3,bottom:692.7,xdom:[0,20.47],ydom:[0,20.56],xticks:xTicksAsc,yticks:yTicksAfterAsc,diag:true,ylabel:labelAfter,ylabelx:40,xlabel:labelBefore});
panel({pts:[...ascRate,...ascRateDense,...ascRateExtra],left:541.3,right:884.7,top:400.3,bottom:692.7,xdom:[0,20.55],ydom:[-106.7,56],xticks:xTicksAsc,yticks:yTicksRateAsc,diag:false,ylabel:labelRate,ylabelx:466,xlabel:labelBefore});

svg.append('text').attr('x',456.5).attr('y',33).attr('text-anchor','middle').attr('fill','#000')
  .style('font-family','"Liberation Sans"').style('font-size','32px').text(titles[0]);
svg.append('text').attr('x',449).attr('y',392).attr('text-anchor','middle').attr('fill','#000')
  .style('font-family','"Liberation Sans"').style('font-size','32px').text(titles[1]);
</script>
</body>
</html>
